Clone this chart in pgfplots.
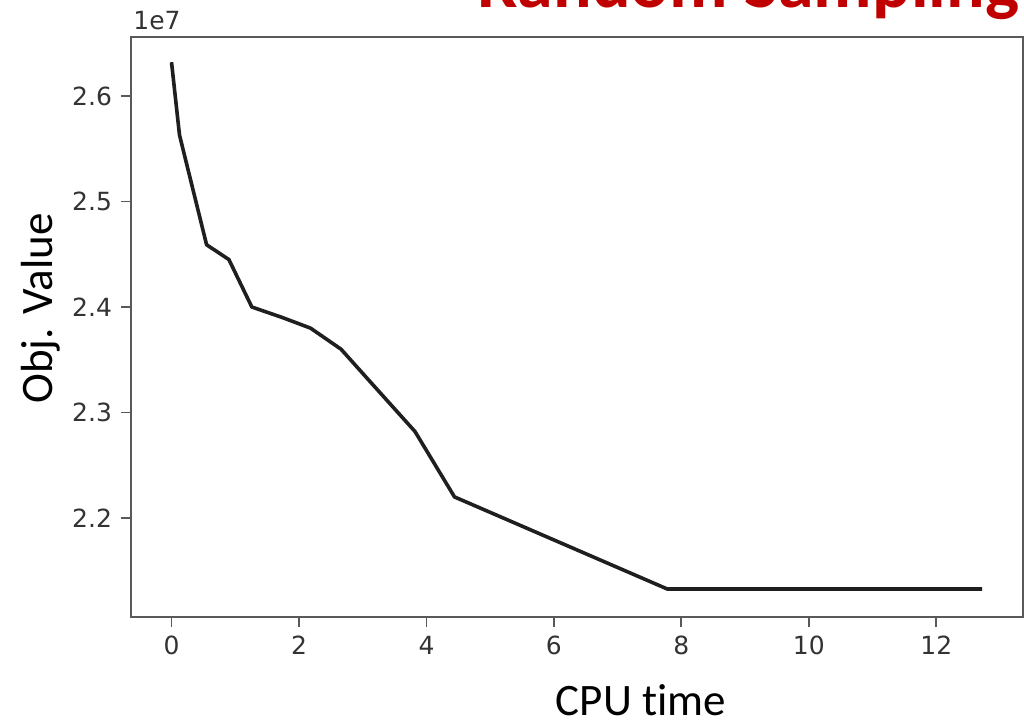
\documentclass[border=0pt]{standalone}
\usepackage{fontspec}
\setmainfont{DejaVu Sans}
\newfontfamily\carlito[Ligatures=NoCommon]{Carlito}
\usepackage{pgfplots}
\pgfplotsset{compat=1.18}
\definecolor{titlered}{HTML}{C00000}
\begin{document}
\begin{tikzpicture}
\begin{axis}[
  name=ax,
  scale only axis,
  width=446pt, height=290pt,
  xmin=-0.636, xmax=13.36,
  ymin=21062000, ymax=26559000,
  xtick={0,2,4,6,8,10,12},
  ytick={22000000,23000000,24000000,25000000,26000000},
  scaled y ticks=base 10:-7,
  ytick scale label code/.code={},
  /pgf/number format/assume math mode=true,
  tick label style={font=\fontsize{12.5}{14}\selectfont, text=black!80},
  axis line style={black!65, line width=0.9pt},
  tick style={black!65, line width=0.9pt},
  tick align=outside,
  major tick length=5pt,
  xtick pos=bottom, ytick pos=left,
  xticklabel style={yshift=-1pt},
  yticklabel style={xshift=-1pt, /pgf/number format/.cd, fixed, fixed zerofill, precision=1},
]
\addplot[black!88, line width=1.8pt, line join=round] coordinates {
(0,26320000)
(0.125,25630000)
(0.55,24590000)
(0.9,24450000)
(1.26,24000000)
(1.74,23900000)
(2.18,23800000)
(2.66,23600000)
(3.09,23310000)
(3.82,22820000)
(4.44,22200000)
(7.78,21327000)
(12.72,21327000)
};
\end{axis}
\node[anchor=base west, inner sep=0pt, font=\fontsize{12.5}{14}\selectfont, text=black!80] at ([xshift=1pt,yshift=3.5pt]ax.north west) {1e7};
\node[anchor=base west, inner sep=0pt, text=titlered, font=\carlito\bfseries\fontsize{36}{40}\selectfont] at ([xshift=173pt,yshift=14.5pt]ax.north west) {Random Sampling};
\node[anchor=base, inner sep=0pt, font=\carlito\fontsize{22.5}{26}\selectfont] at ([xshift=255pt,yshift=-49pt]ax.south west) {CPU time};
\node[anchor=base, rotate=90, inner sep=0pt, font=\carlito\fontsize{22.5}{26}\selectfont] at ([xshift=-39pt,yshift=-135.75pt]ax.north west) {Obj. Value};
\pgfresetboundingbox
\path[use as bounding box] ([xshift=-65.5pt,yshift=-53.5pt]ax.south west) rectangle ([xshift=0.5pt,yshift=18.5pt]ax.north east);
\end{tikzpicture}
\end{document}
